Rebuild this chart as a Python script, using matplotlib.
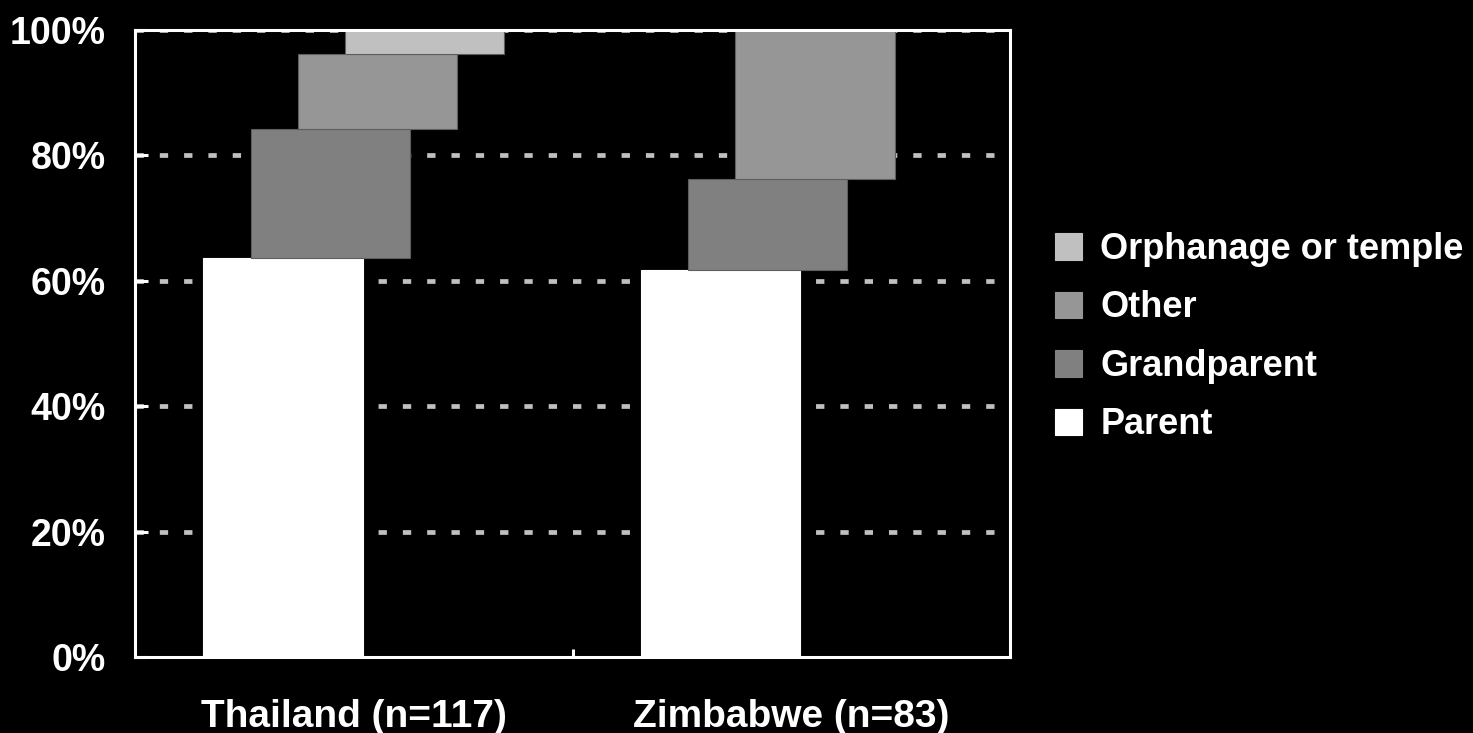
import matplotlib
matplotlib.use("Agg")
import matplotlib.pyplot as plt
import numpy as np

categories = ["Thailand (n=117)", "Zimbabwe (n=83)"]
series = ["Parent", "Grandparent", "Other", "Orphanage or temple"]
parent = [63.7, 61.8]
grandparent = [20.5, 14.4]
other = [11.9, 23.8]
orphanage = [3.9, 0.0]
colors = ["#ffffff", "#808080", "#969696", "#c0c0c0"]
yticks = [0, 20, 40, 60, 80, 100]
ytick_labels = ["0%", "20%", "40%", "60%", "80%", "100%"]

plt.rcParams['font.family'] = ['Liberation Sans', 'DejaVu Sans']
plt.rcParams['font.weight'] = 'bold'
plt.rcParams['lines.scale_dashes'] = False

fig = plt.figure(figsize=(14.73, 7.33), dpi=100, facecolor='black')
ax = fig.add_axes([135/1473, 76/733, 875/1473, 627/733])
ax.set_facecolor('black')

x = np.arange(len(categories))
step = 0.108
width = 0.364
offsets = (np.arange(4) - 1.5) * step
vals = [parent, grandparent, other, orphanage]
bottom = np.zeros(len(categories))
handles = []
for i, (name, v, c) in enumerate(zip(series, vals, colors)):
    v = np.array(v)
    ec = c if i == 0 else '#5e5e5e'
    h = ax.bar(x + offsets[i], v, width, bottom=bottom, color=c,
               edgecolor=ec, linewidth=0.8, label=name, zorder=3 + i)
    handles.append(h)
    bottom = bottom + v

ax.set_xlim(-0.5, 1.5)
ax.set_ylim(0, 100)
ax.set_yticks(yticks)
ax.set_yticklabels(ytick_labels)
ax.set_xticks(x)
ax.set_xticklabels(categories)
ax.set_xticks([0.5], minor=True)

for yv in yticks[1:]:
    ax.axhline(yv, color='#c0c0c0', linewidth=3.4, linestyle=(0, (6, 11.5)), zorder=1)

for s in ax.spines.values():
    s.set_color('white')
    s.set_linewidth(2.2)
    s.set_zorder(10)

ax.tick_params(axis='y', direction='in', length=9.5, width=2.2, color='white',
               labelcolor='white', labelsize=27, pad=21)
ax.tick_params(axis='x', which='major', length=0, labelcolor='white', labelsize=28, pad=30)
ax.tick_params(axis='x', which='minor', direction='in', length=6, width=2.2, color='white')
for lab in ax.get_yticklabels() + ax.get_xticklabels():
    lab.set_fontweight('bold')

leg = ax.legend(handles[::-1], series[::-1], loc='upper left',
                bbox_to_anchor=(1055/1473, 1 - 232/733), bbox_transform=fig.transFigure,
                frameon=False, fontsize=26, handlelength=0.75, handleheight=0.75,
                handletextpad=0.5, labelspacing=0.65, borderpad=0, borderaxespad=0)
for t in leg.get_texts():
    t.set_color('white')
    t.set_fontweight('bold')
for p in leg.get_patches():
    p.set_edgecolor(p.get_facecolor())

fig.savefig("out.png", dpi=100, facecolor='black')
